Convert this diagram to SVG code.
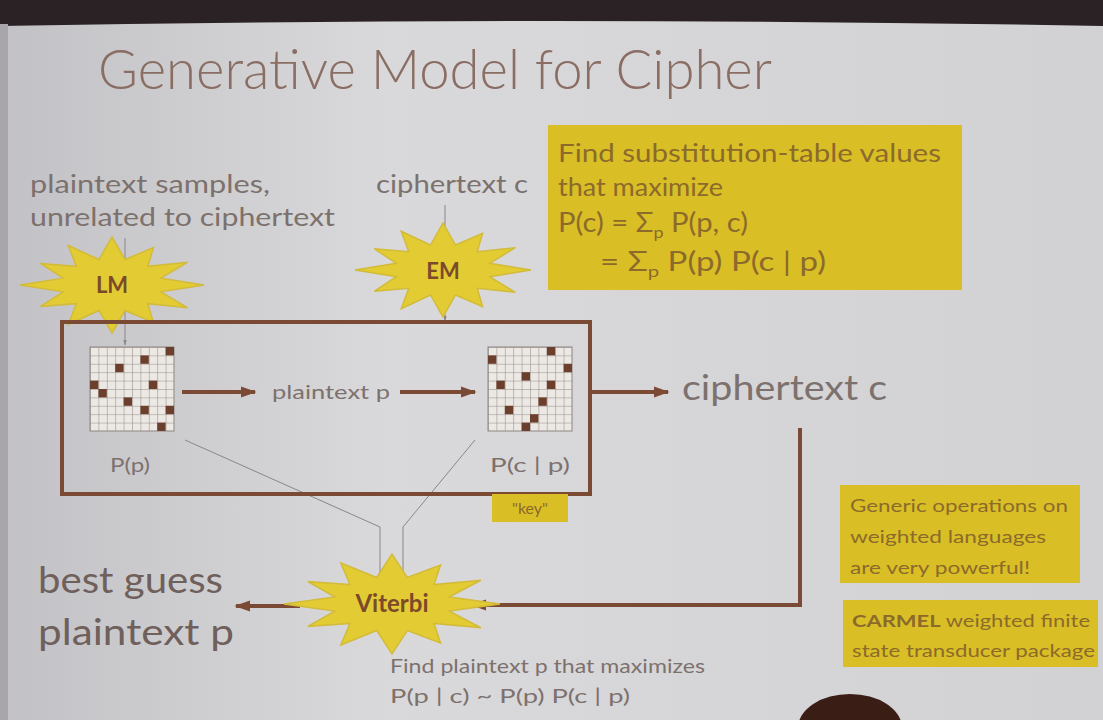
<svg xmlns="http://www.w3.org/2000/svg" width="1103" height="720" viewBox="0 0 1103 720">
<style>
.t{font-family:Lato,"Liberation Sans",Arial,sans-serif;fill:#7d716d}
.y{font-family:Lato,"Liberation Sans",Arial,sans-serif;fill:#8c6a2c}
.b{font-family:Lato,"Liberation Sans",Arial,sans-serif;fill:#7a4a2a;font-weight:bold}
.ybox{fill:#d9bf25}
.star{fill:#e2cb33;stroke:#d3bb3a;stroke-width:1.5}
.thick{stroke:#7b4a35;stroke-width:4;fill:none}
.thin{stroke:#8c8488;stroke-width:1;fill:none}
.cell{fill:#6b3f2c}
</style>
<defs>
<linearGradient id="bg" x1="0" y1="0" x2="1" y2="0">
<stop offset="0" stop-color="#c2c2c6"/>
<stop offset="0.35" stop-color="#d9d9db"/>
<stop offset="1" stop-color="#d2d2d5"/>
</linearGradient>
<pattern id="grid" patternUnits="userSpaceOnUse" width="8.4" height="8.4">
<rect width="8.4" height="8.4" fill="#ece8e4"/>
<path d="M0,0 H8.4 M0,0 V8.4" stroke="#8e8682" stroke-width="1"/>
</pattern>
<path id="starshape" d="M1,0 L.531,.142 L.823,.475 L.389,.389 L.45,.779 L.142,.531 L0,1 L-.142,.531 L-.475,.823 L-.389,.389 L-.779,.45 L-.531,.142 L-1,0 L-.531,-.142 L-.779,-.45 L-.389,-.389 L-.475,-.823 L-.142,-.531 L0,-1 L.142,-.531 L.45,-.779 L.389,-.389 L.823,-.475 L.531,-.142 Z" vector-effect="non-scaling-stroke"/>
<marker id="ah" viewBox="0 0 10 10" refX="9" refY="5" markerWidth="4" markerHeight="4" orient="auto-start-reverse">
<path d="M0,1.5 L10,5 L0,8.5 Z" fill="#7b4a35"/>
</marker>
<marker id="ahs" viewBox="0 0 10 10" refX="9" refY="5" markerWidth="6" markerHeight="6" orient="auto">
<path d="M0,2 L10,5 L0,8 Z" fill="#8c8488"/>
</marker>
</defs>

<rect width="1103" height="720" fill="url(#bg)"/>
<path d="M0,0 H1103 V26 Q551,16 0,26 Z" fill="#2a2224"/>
<rect x="0" y="24" width="8" height="696" fill="#a8a6aa"/>

<text class="t" x="98" y="89" font-size="56" font-weight="300" textLength="674" lengthAdjust="spacingAndGlyphs" style="fill:#8a6e64">Generative Model for Cipher</text>

<g id="connectors">
<line class="thin" x1="125" y1="238" x2="125" y2="345" marker-end="url(#ahs)"/>
<line class="thin" x1="445" y1="205" x2="445" y2="321" marker-end="url(#ahs)"/>
<polyline class="thin" points="185,440 380,527 380,582"/>
<polyline class="thin" points="475,440 403,527 403,576"/>
<line class="thick" x1="182" y1="392" x2="255" y2="392" marker-end="url(#ah)"/>
<line class="thick" x1="400" y1="392" x2="475" y2="392" marker-end="url(#ah)"/>
<line class="thick" x1="592" y1="392" x2="668" y2="392" marker-end="url(#ah)"/>
<polyline class="thick" points="800,428 800,605 472,605" marker-end="url(#ah)"/>
<line class="thick" x1="300" y1="606" x2="236" y2="606" marker-end="url(#ah)"/>
</g>

<g id="inputs">
<text class="t" x="30" y="193" font-size="25" textLength="240" lengthAdjust="spacingAndGlyphs">plaintext samples,</text>
<text class="t" x="30" y="226" font-size="25" textLength="305" lengthAdjust="spacingAndGlyphs">unrelated to ciphertext</text>
<text class="t" x="376" y="193" font-size="25" textLength="152" lengthAdjust="spacingAndGlyphs">ciphertext c</text>
</g>

<g id="note-em">
<rect class="ybox" x="548" y="125" width="414" height="165"/>
<text class="y" x="558" y="162" font-size="25" textLength="383" lengthAdjust="spacingAndGlyphs">Find substitution-table values</text>
<text class="y" x="558" y="196" font-size="25" textLength="165" lengthAdjust="spacingAndGlyphs">that maximize</text>
<text class="y" x="558" y="232" font-size="26" textLength="190" lengthAdjust="spacingAndGlyphs">P(c) = Σ<tspan font-size="16" dy="6">p</tspan><tspan dy="-6"> P(p, c)</tspan></text>
<text class="y" x="600" y="271" font-size="26" textLength="226" lengthAdjust="spacingAndGlyphs">= Σ<tspan font-size="16" dy="6">p</tspan><tspan dy="-6"> P(p) P(c | p)</tspan></text>
</g>

<g id="lm">
<use href="#starshape" class="star" transform="translate(112,285) scale(92,48)"/>
<text class="b" x="112" y="293" font-size="22" text-anchor="middle">LM</text>
</g>

<g id="em">
<use href="#starshape" class="star" transform="translate(443,270) scale(88,47)"/>
<text class="b" x="443" y="279" font-size="22" text-anchor="middle">EM</text>
</g>

<g id="model">
<rect class="thick" x="62" y="322" width="528" height="172"/>
<text class="t" x="272" y="399" font-size="19" textLength="118" lengthAdjust="spacingAndGlyphs">plaintext p</text>
</g>

<g id="pp" transform="translate(90,347)">
<rect width="84" height="84" fill="url(#grid)" stroke="#8e8682" stroke-width="1"/>
<rect class="cell" x="75.6" y="0" width="8.4" height="8.4"/>
<rect class="cell" x="50.4" y="8.4" width="8.4" height="8.4"/>
<rect class="cell" x="25.2" y="16.8" width="8.4" height="8.4"/>
<rect class="cell" x="0" y="33.6" width="8.4" height="8.4"/>
<rect class="cell" x="58.8" y="33.6" width="8.4" height="8.4"/>
<rect class="cell" x="8.4" y="42" width="8.4" height="8.4"/>
<rect class="cell" x="33.6" y="50.4" width="8.4" height="8.4"/>
<rect class="cell" x="50.4" y="58.8" width="8.4" height="8.4"/>
<rect class="cell" x="75.6" y="58.8" width="8.4" height="8.4"/>
<rect class="cell" x="67.2" y="75.6" width="8.4" height="8.4"/>
<text class="t" x="20" y="125" font-size="20" textLength="40" lengthAdjust="spacingAndGlyphs">P(p)</text>
</g>

<g id="pcp" transform="translate(488,347)">
<rect width="84" height="84" fill="url(#grid)" stroke="#8e8682" stroke-width="1"/>
<rect class="cell" x="58.8" y="0" width="8.4" height="8.4"/>
<rect class="cell" x="0" y="8.4" width="8.4" height="8.4"/>
<rect class="cell" x="75.6" y="16.8" width="8.4" height="8.4"/>
<rect class="cell" x="33.6" y="25.2" width="8.4" height="8.4"/>
<rect class="cell" x="8.4" y="33.6" width="8.4" height="8.4"/>
<rect class="cell" x="58.8" y="33.6" width="8.4" height="8.4"/>
<rect class="cell" x="50.4" y="50.4" width="8.4" height="8.4"/>
<rect class="cell" x="16.8" y="58.8" width="8.4" height="8.4"/>
<rect class="cell" x="42" y="67.2" width="8.4" height="8.4"/>
<rect class="cell" x="33.6" y="75.6" width="8.4" height="8.4"/>
<text class="t" x="2" y="125" font-size="20" textLength="80" lengthAdjust="spacingAndGlyphs">P(c | p)</text>
</g>

<g id="key">
<rect class="ybox" x="492" y="494" width="76" height="28"/>
<text class="y" x="530" y="514" font-size="16" text-anchor="middle">"key"</text>
</g>

<g id="ciphertext">
<text class="t" x="682" y="400" font-size="35" textLength="205" lengthAdjust="spacingAndGlyphs">ciphertext c</text>
</g>

<g id="viterbi">
<use href="#starshape" class="star" transform="translate(392,604) scale(108,50)"/>
<text class="b" x="392" y="612" font-size="24" text-anchor="middle">Viterbi</text>
<text class="t" x="390" y="673" font-size="19" textLength="315" lengthAdjust="spacingAndGlyphs">Find plaintext p that maximizes</text>
<text class="t" x="390" y="703" font-size="19" textLength="240" lengthAdjust="spacingAndGlyphs">P(p | c) ~ P(p) P(c | p)</text>
</g>

<g id="output">
<text class="t" x="38" y="593" font-size="37" textLength="185" lengthAdjust="spacingAndGlyphs" style="fill:#6f605b">best guess</text>
<text class="t" x="38" y="645" font-size="37" textLength="196" lengthAdjust="spacingAndGlyphs" style="fill:#6f605b">plaintext p</text>
</g>

<g id="note-generic">
<rect class="ybox" x="840" y="485" width="240" height="98"/>
<text class="y" x="850" y="512" font-size="17" textLength="218" lengthAdjust="spacingAndGlyphs">Generic operations on</text>
<text class="y" x="850" y="543" font-size="17" textLength="196" lengthAdjust="spacingAndGlyphs">weighted languages</text>
<text class="y" x="850" y="574" font-size="17" textLength="180" lengthAdjust="spacingAndGlyphs">are very powerful!</text>
</g>

<g id="note-carmel">
<rect class="ybox" x="843" y="600" width="255" height="67"/>
<text class="y" x="852" y="627" font-size="17" textLength="238" lengthAdjust="spacingAndGlyphs"><tspan font-weight="bold">CARMEL</tspan> weighted finite</text>
<text class="y" x="852" y="657" font-size="17" textLength="243" lengthAdjust="spacingAndGlyphs">state transducer package</text>
</g>

<ellipse cx="850" cy="728" rx="52" ry="34" fill="#3a1e16"/>
</svg>
